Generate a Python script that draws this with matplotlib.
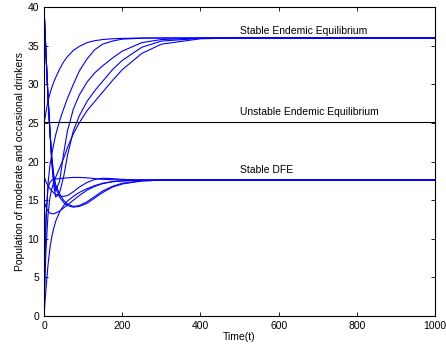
import matplotlib
matplotlib.use("Agg")
import matplotlib.pyplot as plt

plt.rcParams['font.family'] = ['Liberation Sans', 'DejaVu Sans']

# time samples
t = [0, 2, 5, 10, 15, 20, 25, 30, 40, 50, 60, 75, 90, 110, 130, 150, 175, 200,
     250, 300, 400, 500, 700, 1000]

# trajectories going to the stable endemic equilibrium
upper_1 = [25, 25.5, 26.4, 27.8, 28.8, 29.6, 30.3, 30.9, 32.0, 32.9, 33.6, 34.4,
           34.9, 35.4, 35.65, 35.8, 35.9, 35.95, 36, 36, 36, 36, 36, 36]
upper_2 = [0, 6, 12, 17, 19.5, 21, 22.3, 23.5, 25.3, 26.8, 28.2, 30.0, 31.7, 33.3,
           34.5, 35.2, 35.6, 35.85, 35.97, 36, 36, 36, 36, 36]
upper_3 = [40, 37.5, 34, 28.5, 24, 20, 17.3, 16.2, 17.5, 21.0, 24.0, 26.8, 28.6,
           30.3, 31.5, 32.4, 33.4, 34.3, 35.4, 35.8, 35.98, 36, 36, 36]
upper_4 = [40, 37.5, 34, 28.5, 24, 19.8, 16.8, 15.4, 16.0, 18.0, 20.8, 24.0, 25.9,
           27.8, 29.2, 30.4, 31.9, 33.1, 34.8, 35.6, 35.95, 36, 36, 36]
upper_5 = [0, 4, 8.5, 13, 15.3, 16.5, 17.3, 18.0, 19.2, 20.4, 21.8, 23.6, 25.0,
           26.6, 27.8, 29.0, 30.5, 31.9, 34.0, 35.2, 35.9, 36, 36, 36]

# trajectories going to the stable disease free equilibrium
lower_1 = [18, 17.8, 17.4, 16.9, 16.5, 16.2, 15.95, 15.75, 15.55, 15.5, 15.6, 16.1,
           16.7, 17.3, 17.7, 17.85, 17.8, 17.7, 17.62, 17.6, 17.6, 17.6, 17.6, 17.6]
lower_2 = [15, 14.6, 14.1, 13.6, 13.35, 13.25, 13.25, 13.35, 13.6, 14.0, 14.4, 15.0,
           15.6, 16.3, 16.8, 17.15, 17.4, 17.5, 17.6, 17.6, 17.6, 17.6, 17.6, 17.6]
lower_3 = [40, 37.5, 34, 28.5, 24, 20.5, 18.2, 17.0, 15.8, 15.0, 14.5, 14.2, 14.3,
           14.8, 15.5, 16.2, 16.8, 17.2, 17.5, 17.6, 17.6, 17.6, 17.6, 17.6]
lower_4 = [40, 37.5, 34, 28.5, 24, 20.3, 17.8, 16.6, 15.4, 14.7, 14.3, 14.1, 14.2,
           14.6, 15.3, 16.0, 16.7, 17.1, 17.5, 17.6, 17.6, 17.6, 17.6, 17.6]
lower_5 = [0, 1.5, 3.5, 6.5, 8.8, 10.3, 11.4, 12.3, 13.5, 14.3, 14.9, 15.5, 16.0,
           16.5, 16.9, 17.2, 17.4, 17.5, 17.6, 17.6, 17.6, 17.6, 17.6, 17.6]
lower_6 = [0, 7, 13, 16.5, 17.3, 17.6, 17.7, 17.75, 17.8, 17.85, 17.9, 17.95, 17.95,
           17.9, 17.8, 17.7, 17.65, 17.62, 17.6, 17.6, 17.6, 17.6, 17.6, 17.6]

unstable_ee = 25.15
labels = ["Stable Endemic Equilibrium", "Unstable Endemic Equilibrium", "Stable DFE"]
label_y = [36.5, 26.0, 18.5]

fig = plt.figure(figsize=(4.46, 3.54), dpi=100)
ax = fig.add_axes([0.0987, 0.107, 0.877, 0.873])

for y in [upper_1, upper_2, upper_3, upper_4, upper_5,
          lower_1, lower_2, lower_3, lower_4, lower_5, lower_6]:
    ax.plot(t, y, color='blue', lw=0.8)

ax.axhline(unstable_ee, color='black', lw=0.8)

for txt, yy in zip(labels, label_y):
    ax.text(501, yy, txt, fontsize=7.5, va='baseline', ha='left')

ax.set_xlim(0, 1000)
ax.set_ylim(0, 40)
ax.set_xticks(range(0, 1001, 200))
ax.set_yticks(range(0, 41, 5))
ax.tick_params(direction='in', top=True, right=True, labelsize=7.5, length=3, width=0.6)
for s in ax.spines.values():
    s.set_linewidth(0.8)
ax.set_xlabel("Time(t)", fontsize=7.5, labelpad=1)
ax.set_ylabel("Population of moderate and occasional drinkers", fontsize=7.5, labelpad=2)

fig.savefig("out.png", dpi=100)
